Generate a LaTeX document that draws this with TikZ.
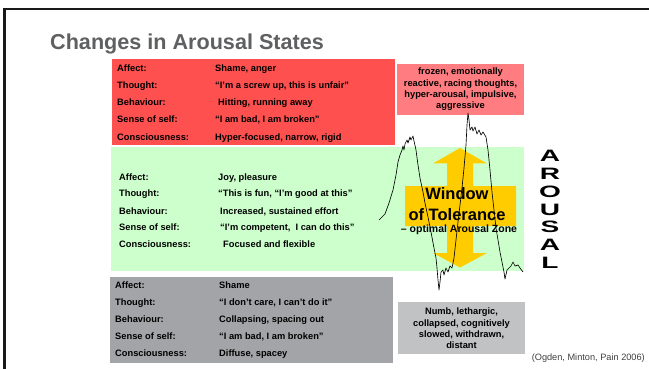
\documentclass[tikz,border=0pt]{standalone}
\usepackage{fontspec}
\setmainfont{Liberation Sans}
\usepackage{graphicx}

\definecolor{hotred}{HTML}{FF5050}
\definecolor{hotpink}{HTML}{FF7C80}
\definecolor{calmgreen}{HTML}{CCFFCC}
\definecolor{windowyellow}{HTML}{FFCC00}
\definecolor{lowgray}{HTML}{A2A4A7}
\definecolor{lowgraylight}{HTML}{C0C2C4}
\definecolor{titlegray}{HTML}{5F6062}

\newcommand{\rowfont}{\fontsize{9.3}{11.3}\selectfont\bfseries}

\tikzset{
  panel/.style={draw=none, inner sep=0pt},
  rowtext/.style={anchor=base west, inner sep=0pt, font=\rowfont},
  notetext/.style={align=center, inner sep=0pt, font=\rowfont},
  arousal/.style={inner sep=0pt, font=\fontsize{16.5}{16.5}\selectfont\bfseries},
  wave/.style={black, line width=0.65pt, line join=round},
}

\begin{document}
\begin{tikzpicture}[x=1pt, y=-1pt]
\useasboundingbox (0,0) rectangle (649,369);
\fill[white] (0,0) rectangle (649,369);

% slide frame
\draw[line width=2.6pt, black!90] (4.7,369) -- (4.7,9) -- (649,9);

% title
\node[anchor=base west, inner sep=0pt, text=titlegray,
      font=\fontsize{21.6}{21.6}\selectfont\bfseries] (title) at (50,49.5) {Changes in Arousal States};

% coloured panels
\fill[hotred] (112,59) rectangle (395,145);
\fill[hotpink] (397,64) rectangle (524,115);
\fill[calmgreen] (111,147) rectangle (524,271);
\fill[lowgray] (110,277) rectangle (393,363);
\fill[lowgraylight] (398,302) rectangle (525,354);

% hyper-arousal rows
\node[rowtext] (h1l) at (117,71.5) {Affect:};
\node[rowtext] (h1v) at (215,71.5) {Shame, anger};
\node[rowtext] (h2l) at (117,88.5) {Thought:};
\node[rowtext] (h2v) at (215,88.5) {“I’m a screw up, this is unfair”};
\node[rowtext] (h3l) at (117,105.5) {Behaviour:};
\node[rowtext] (h3v) at (218,105.5) {Hitting, running away};
\node[rowtext] (h4l) at (117,122.5) {Sense of self:};
\node[rowtext] (h4v) at (215,122.5) {“I am bad, I am broken”};
\node[rowtext] (h5l) at (117,140) {Consciousness:};
\node[rowtext] (h5v) at (215,140) {Hyper-focused, narrow, rigid};

% optimal zone rows
\node[rowtext] (o1l) at (119,180.2) {Affect:};
\node[rowtext] (o1v) at (218,180.2) {Joy, pleasure};
\node[rowtext] (o2l) at (119,196.8) {Thought:};
\node[rowtext] (o2v) at (218,196.8) {“This is fun, “I’m good at this”};
\node[rowtext] (o3l) at (119,214.2) {Behaviour:};
\node[rowtext] (o3v) at (220,214.2) {Increased, sustained effort};
\node[rowtext] (o4l) at (119,230.8) {Sense of self:};
\node[rowtext] (o4v) at (220,230.8) {“I’m competent,\ \ I can do this”};
\node[rowtext] (o5l) at (119,247.8) {Consciousness:};
\node[rowtext] (o5v) at (223,247.8) {Focused and flexible};

% hypo-arousal rows
\node[rowtext] (l1l) at (115,288) {Affect:};
\node[rowtext] (l1v) at (219,288) {Shame};
\node[rowtext] (l2l) at (115,305) {Thought:};
\node[rowtext] (l2v) at (219,305) {“I don’t care, I can’t do it”};
\node[rowtext] (l3l) at (115,322) {Behaviour:};
\node[rowtext] (l3v) at (219,322) {Collapsing, spacing out};
\node[rowtext] (l4l) at (115,339) {Sense of self:};
\node[rowtext] (l4v) at (219,339) {“I am bad, I am broken”};
\node[rowtext] (l5l) at (115,356) {Consciousness:};
\node[rowtext] (l5v) at (219,356) {Diffuse, spacey};

% side notes
\node[notetext] (hypernote) at (460.5,89.5)
  {frozen, emotionally\\reactive, racing thoughts,\\hyper-arousal, impulsive,\\aggressive};
\node[notetext] (hyponote) at (461.5,328.5)
  {Numb, lethargic,\\collapsed, cognitively\\slowed, withdrawn,\\distant};

% window of tolerance double arrow
\fill[windowyellow]
  (460,148) -- (487,163.5) -- (473,163.5) -- (473,186) -- (516,186)
  -- (516,226) -- (473,226) -- (473,253) -- (487,253) -- (460,267.5)
  -- (433,253) -- (447,253) -- (447,226) -- (405,226) -- (405,186)
  -- (447,186) -- (447,163.5) -- (433,163.5) -- cycle;

\node[anchor=base, inner sep=0pt, font=\fontsize{16.5}{16.5}\selectfont\bfseries] (wot1) at (457,199.3) {Window};
\node[anchor=base, inner sep=0pt, font=\fontsize{16.5}{16.5}\selectfont\bfseries] (wot2) at (457,220) {of Tolerance};
\node[anchor=base, inner sep=0pt, font=\fontsize{10.5}{10.5}\selectfont\bfseries] (wot3) at (459,232.5) {– optimal Arousal Zone};

% arousal trace
\draw[wave] (379,220) -- (381,218) -- (385,214) -- (389,203) -- (393,190)
  -- (396,175) -- (398,162) -- (400,155) -- (402,150) -- (403,146)
  -- (404,150) -- (405,144) -- (407,140) -- (408,143) -- (410,137)
  -- (411,140) -- (413,136) -- (414,141) -- (416,150) -- (418,165)
  -- (420,178) -- (423,192) -- (425,203) -- (428,217) -- (431,232)
  -- (434,248) -- (436,258) -- (437,268) -- (438,280) -- (439,290)
  -- (440,282) -- (441,272) -- (443,270) -- (444,275) -- (446,268)
  -- (448,272) -- (450,266) -- (452,268) -- (454,258) -- (456,240)
  -- (458,222) -- (460,205) -- (462,188) -- (464,168) -- (466,145)
  -- (467,125) -- (468,113) -- (469,120) -- (470,130) -- (472,127)
  -- (473,131) -- (475,127) -- (477,134) -- (479,130) -- (481,135)
  -- (483,132) -- (486,137) -- (488,150) -- (490,170) -- (492,192)
  -- (494,210) -- (496,228) -- (498,240) -- (500,252) -- (502,262)
  -- (504,272) -- (505,279) -- (507,270) -- (509,268) -- (511,266)
  -- (513,262) -- (515,266) -- (518,265) -- (520,268) -- (523,272);

% vertical AROUSAL label
\node[arousal] (ar1) at (550,155.7) {\scalebox{1.7}[1]{A}};
\node[arousal] (ar2) at (550,174) {\scalebox{1.7}[1]{R}};
\node[arousal] (ar3) at (550,191.7) {\scalebox{1.7}[1]{O}};
\node[arousal] (ar4) at (550,210) {\scalebox{1.7}[1]{U}};
\node[arousal] (ar5) at (550,226.7) {\scalebox{1.7}[1]{S}};
\node[arousal] (ar6) at (550,245) {\scalebox{1.7}[1]{A}};
\node[arousal] (ar7) at (550,263) {\scalebox{1.7}[1]{L}};

% citation
\node[anchor=base east, inner sep=0pt, text=black!75,
      font=\fontsize{9.2}{9.2}\selectfont] (cite) at (645,360.3) {(Ogden, Minton, Pain 2006)};
\end{tikzpicture}
\end{document}
